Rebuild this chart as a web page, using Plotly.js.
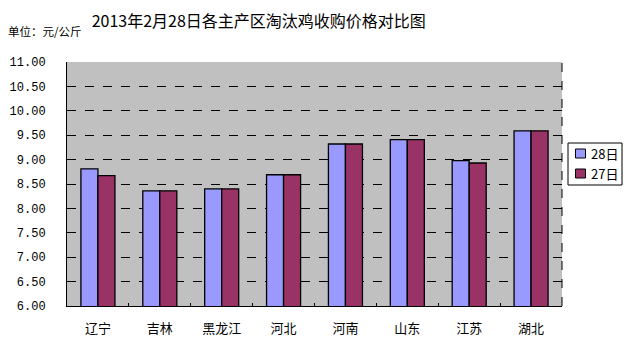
<!DOCTYPE html>
<html>
<head>
<meta charset="utf-8">
<script src="https://cdn.plot.ly/plotly-3.0.1.min.js"></script>
<style>html,body{margin:0;padding:0;background:#fff;}#chart{width:628px;height:363px;}</style>
</head>
<body>
<div id="chart"></div>
<script>
const categories = ['辽宁','吉林','黑龙江','河北','河南','山东','江苏','湖北'];
const seriesNames = ['28日','27日'];
const seriesColors = ['#9999FF','#993366'];
const values28 = [8.81, 8.36, 8.40, 8.69, 9.32, 9.41, 8.98, 9.59];
const values27 = [8.67, 8.36, 8.40, 8.69, 9.32, 9.41, 8.93, 9.59];
const yTickVals = [6,6.5,7,7.5,8,8.5,9,9.5,10,10.5,11];
const yTickText = ['6.00','6.50','7.00','7.50','8.00','8.50','9.00','9.50','10.00','10.50','11.00'];

const cjk = '"Noto Sans CJK SC", "Noto Sans", sans-serif';
const M = {l:67, r:66, t:62, b:57};
const PW = 628 - M.l - M.r, PH = 363 - M.t - M.b;
const px = v => (v - M.l) / PW;
const py = v => (363 - M.b - v) / PH;

const traces = [
  {type:'bar', name:seriesNames[0], x:categories, y:values28,
   marker:{color:seriesColors[0], line:{color:'#000000', width:1.3}}},
  {type:'bar', name:seriesNames[1], x:categories, y:values27,
   marker:{color:seriesColors[1], line:{color:'#000000', width:1.3}}}
];

const shapes = [
  {type:'line', xref:'paper', yref:'paper', x0:1, x1:1, y0:0, y1:1, line:{color:'#000', width:1, dash:'dash'}},
  {type:'rect', xref:'paper', yref:'paper', x0:px(568), x1:px(622), y0:py(143), y1:py(185),
   line:{color:'#000', width:1}, fillcolor:'#fff'}
];
const annotations = [
  {text:'单位：元/公斤', xref:'paper', yref:'paper', x:px(6), xanchor:'left', y:py(31), yanchor:'middle',
   showarrow:false, font:{family:cjk, size:11.5, color:'#000'}}
];
seriesNames.forEach((n, i) => {
  const cy = 153.5 + i * 20;
  shapes.push({type:'rect', xref:'paper', yref:'paper', x0:px(575.5), x1:px(585.5), y0:py(cy - 4.5), y1:py(cy + 4.5),
               line:{color:'#000', width:1}, fillcolor:seriesColors[i]});
  annotations.push({text:n, xref:'paper', yref:'paper', x:px(589), xanchor:'left', y:py(cy), yanchor:'middle',
                    showarrow:false, font:{family:cjk, size:13, color:'#000'}});
});

const layout = {
  width:628, height:363,
  margin:{l:M.l, r:M.r, t:M.t, b:M.b, pad:0},
  paper_bgcolor:'#ffffff', plot_bgcolor:'#C0C0C0',
  barmode:'group', bargap:0.45, bargroupgap:0,
  showlegend:false,
  title:{text:'2013年2月28日各主产区淘汰鸡收购价格对比图', font:{family:cjk, size:16, color:'#000'},
         x:0.412, xanchor:'center', xref:'container', y:0.94, yanchor:'middle', yref:'container'},
  xaxis:{type:'category', showline:true, linecolor:'#000', linewidth:1,
         ticks:'inside', tickson:'boundaries', ticklen:3, tickcolor:'#000',
         tickfont:{family:cjk, size:13, color:'#000'}, ticklabelstandoff:10,
         showgrid:false, fixedrange:true},
  yaxis:{range:[6,11], tickvals:yTickVals, ticktext:yTickText, showline:true, linecolor:'#000', linewidth:1,
         ticks:'', tickfont:{family:'Liberation Mono, DejaVu Sans Mono, monospace', size:12, color:'#000'}, ticklabelstandoff:18,
         showgrid:true, gridcolor:'#000', gridwidth:1, griddash:'dash', zeroline:false, fixedrange:true},
  shapes:shapes,
  annotations:annotations
};
Plotly.newPlot('chart', traces, layout, {displayModeBar:false, staticPlot:true});
</script>
</body>
</html>
